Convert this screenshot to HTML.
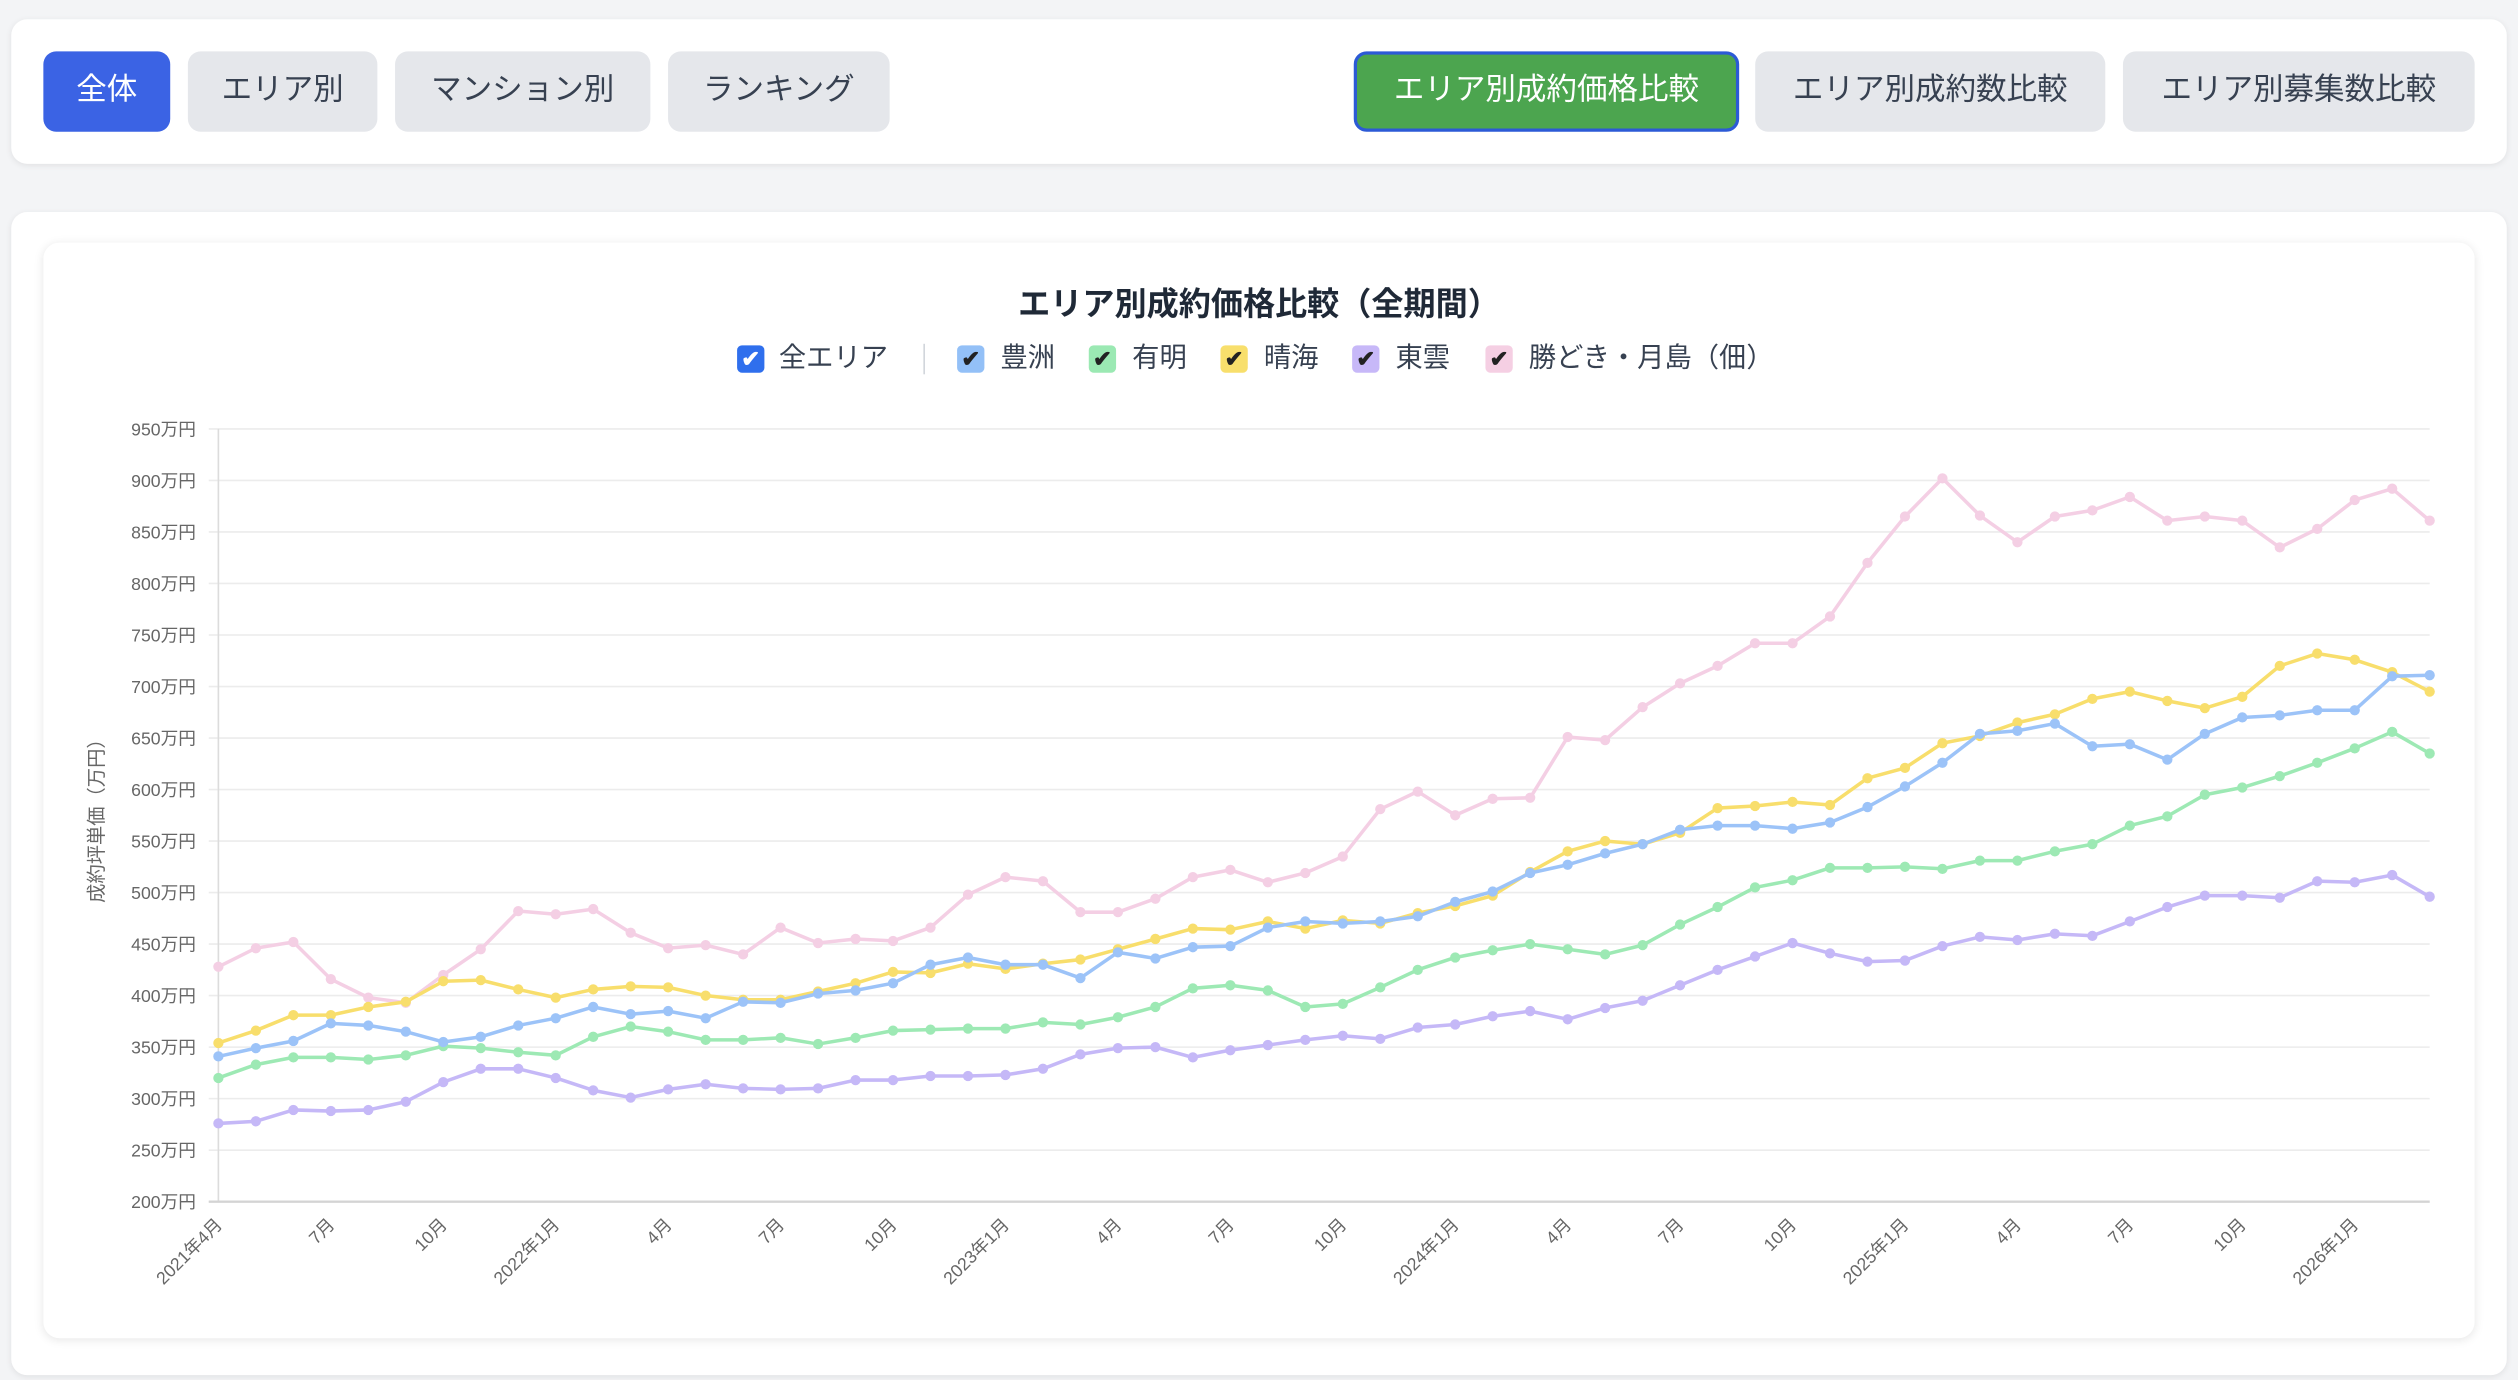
<!DOCTYPE html>
<html lang="ja">
<head>
<meta charset="utf-8">
<style>
html,body{margin:0;padding:0;background:#f3f4f6;overflow:hidden;}
body{width:2518px;height:1380px;}
#root{position:absolute;left:0;top:0;width:1568px;height:859px;transform:scale(1.60587,1.6065);transform-origin:0 0;font-family:"Liberation Sans","Noto Sans CJK JP",sans-serif;}
.card{position:absolute;background:#fff;border-radius:10px;box-shadow:0 1px 4px rgba(0,0,0,0.08);}
.btn{position:absolute;top:20px;height:50px;border-radius:8px;background:#e5e7eb;color:#374151;font-size:19px;line-height:50px;text-align:center;box-sizing:border-box;}
.legend{position:absolute;top:212px;height:22px;font-size:17px;color:#374151;line-height:22px;}
.cb{position:absolute;top:3px;width:17px;height:17px;border-radius:3px;color:#222;font-size:14px;line-height:17px;text-align:center;font-weight:bold;}
</style>
</head>
<body>
<div id="root">
  <div class="card" style="left:7px;top:12px;width:1554px;height:90px;">
    <div class="btn" style="left:20px;width:79px;background:#3b63e4;color:#fff;">全体</div>
    <div class="btn" style="left:110px;width:118px;">エリア別</div>
    <div class="btn" style="left:239px;width:159px;">マンション別</div>
    <div class="btn" style="left:409px;width:138px;">ランキング</div>
    <div class="btn" style="left:836px;width:240px;background:#4ca54f;color:#fff;border:2px solid #2c5ad6;line-height:46px;">エリア別成約価格比較</div>
    <div class="btn" style="left:1086px;width:218px;">エリア別成約数比較</div>
    <div class="btn" style="left:1315px;width:219px;">エリア別募集数比較</div>
  </div>
  <div class="card" style="left:7px;top:132px;width:1554px;height:724px;"></div>
  <div class="card" style="left:27px;top:151px;width:1514px;height:682px;box-shadow:0 1px 6px rgba(0,0,0,0.10);"></div>
  <div style="position:absolute;left:27px;width:1514px;top:173px;text-align:center;font-size:20px;font-weight:bold;color:#1f2937;">エリア別成約価格比較（全期間）</div>

  <div class="legend" style="left:459px;"><span class="cb" style="left:0;background:#2f6fed;color:#fff;">✔</span><span style="position:absolute;left:26px;white-space:nowrap;">全エリア</span></div>
  <div style="position:absolute;left:575px;top:214px;width:1px;height:19px;background:#d1d5db;"></div>
  <div class="legend" style="left:596px;"><span class="cb" style="left:0;background:#93c0f7;">✔</span><span style="position:absolute;left:27px;white-space:nowrap;">豊洲</span></div>
  <div class="legend" style="left:678px;"><span class="cb" style="left:0;background:#9be9b3;">✔</span><span style="position:absolute;left:27px;white-space:nowrap;">有明</span></div>
  <div class="legend" style="left:760px;"><span class="cb" style="left:0;background:#f8df6c;">✔</span><span style="position:absolute;left:27px;white-space:nowrap;">晴海</span></div>
  <div class="legend" style="left:842px;"><span class="cb" style="left:0;background:#c7b8f8;">✔</span><span style="position:absolute;left:27px;white-space:nowrap;">東雲</span></div>
  <div class="legend" style="left:925px;"><span class="cb" style="left:0;background:#f5cfe3;">✔</span><span style="position:absolute;left:27px;white-space:nowrap;">勝どき・月島（佃）</span></div>

  <svg id="chart" style="position:absolute;left:0;top:0;" width="1568" height="859"></svg>
</div>
<script>
const months = ["2021年4月","5月","6月","7月","8月","9月","10月","11月","12月","2022年1月","2月","3月","4月","5月","6月","7月","8月","9月","10月","11月","12月","2023年1月","2月","3月","4月","5月","6月","7月","8月","9月","10月","11月","12月","2024年1月","2月","3月","4月","5月","6月","7月","8月","9月","10月","11月","12月","2025年1月","2月","3月","4月","5月","6月","7月","8月","9月","10月","11月","12月","2026年1月","2月","3月"];
const yTicks = [200,250,300,350,400,450,500,550,600,650,700,750,800,850,900,950];
const toyosu = [341,349,356,373,371,365,355,360,371,378,389,382,385,378,394,393,402,405,412,430,437,430,430,417,442,436,447,448,466,472,470,472,477,491,501,519,527,538,547,561,565,565,562,568,583,603,626,654,657,664,642,644,629,654,670,672,677,677,710,711];
const ariake = [320,333,340,340,338,342,351,349,345,342,360,370,365,357,357,359,353,359,366,367,368,368,374,372,379,389,407,410,405,389,392,408,425,437,444,450,445,440,449,469,486,505,512,524,524,525,523,531,531,540,547,565,574,595,602,613,626,640,656,635];
const harumi = [354,366,381,381,389,394,414,415,406,398,406,409,408,400,396,396,404,412,423,422,431,426,431,435,445,455,465,464,472,465,473,470,480,487,497,520,540,550,547,558,582,584,588,585,611,621,645,652,665,673,688,695,686,679,690,720,732,726,714,695];
const shinonome = [276,278,289,288,289,297,316,329,329,320,308,301,309,314,310,309,310,318,318,322,322,323,329,343,349,350,340,347,352,357,361,358,369,372,380,385,377,388,395,410,425,438,451,441,433,434,448,457,454,460,458,472,486,497,497,495,511,510,517,496];
const kachidoki = [428,446,452,416,398,393,420,445,482,479,484,461,446,449,440,466,451,455,453,466,498,515,511,481,481,494,515,522,510,519,535,581,598,575,591,592,651,648,680,703,720,742,742,768,820,865,902,866,840,865,871,884,861,865,861,835,853,881,892,861];

const NS = "http://www.w3.org/2000/svg";
const svg = document.getElementById('chart');
const X0 = 136, X1 = 1513, Y0 = 748, Y1 = 267, VMIN = 200, VMAX = 950;
function xs(i){ return X0 + (X1 - X0) * i / (months.length - 1); }
function ys(v){ return Y0 - (Y0 - Y1) * (v - VMIN) / (VMAX - VMIN); }
function mk(tag, attrs){ const e = document.createElementNS(NS, tag); for (const k in attrs) e.setAttribute(k, attrs[k]); svg.appendChild(e); return e; }

yTicks.forEach(function(t){
  const g = mk('line', {x1: X0 - 6, x2: X1, y1: ys(t), y2: ys(t), stroke: '#ececec', 'stroke-width': 1});
  
  
  const lb = mk('text', {x: X0 - 14, y: ys(t) + 4, 'text-anchor': 'end', 'font-size': 11, fill: '#666', 'font-family': '"Liberation Sans","Noto Sans CJK JP",sans-serif'});
  lb.textContent = t + '万円';
  
  
});
const ax = mk('line', {x1: X0, x2: X0, y1: Y1, y2: Y0, stroke: '#dcdcdc', 'stroke-width': 1});


const bx = mk('line', {x1: X0 - 6, x2: X1, y1: Y0, y2: Y0, stroke: '#d4d4d4', 'stroke-width': 1.5});



const yt = mk('text', {x: 0, y: 0, transform: 'translate(64,508) rotate(-90)', 'text-anchor': 'middle', 'font-size': 12, fill: '#666', 'font-family': '"Liberation Sans","Noto Sans CJK JP",sans-serif'});
yt.textContent = '成約坪単価（万円）';



months.forEach(function(m, i){
  if (i % 3 !== 0) return;
  const tx = xs(i) + 3, ty = Y0 + 15;
  const lb = mk('text', {x: tx, y: ty, transform: 'rotate(-45 ' + tx + ' ' + ty + ')', 'text-anchor': 'end', 'font-size': 11, fill: '#666', 'font-family': '"Liberation Sans","Noto Sans CJK JP",sans-serif'});
  lb.textContent = m;
  
  
});

const seriesList = [
  {name: 'toyosu', data: toyosu, color: '#9cc3f8'},
  {name: 'ariake', data: ariake, color: '#9de9b4'},
  {name: 'harumi', data: harumi, color: '#f8de6c'},
  {name: 'shinonome', data: shinonome, color: '#c5b8f7'},
  {name: 'kachidoki', data: kachidoki, color: '#f4cfe4'}
];
seriesList.slice().reverse().forEach(function(s){
  const pts = s.data.map(function(v, i){ return xs(i).toFixed(1) + ',' + ys(v).toFixed(1); }).join(' ');
  const pl = mk('polyline', {points: pts, fill: 'none', stroke: s.color, 'stroke-width': 2.2, 'stroke-linejoin': 'round'});
  
  
  s.data.forEach(function(v, i){
    const c = mk('circle', {cx: xs(i), cy: ys(v), r: 3.2, fill: s.color});
    
    
  });
});
</script>
</body>
</html>
